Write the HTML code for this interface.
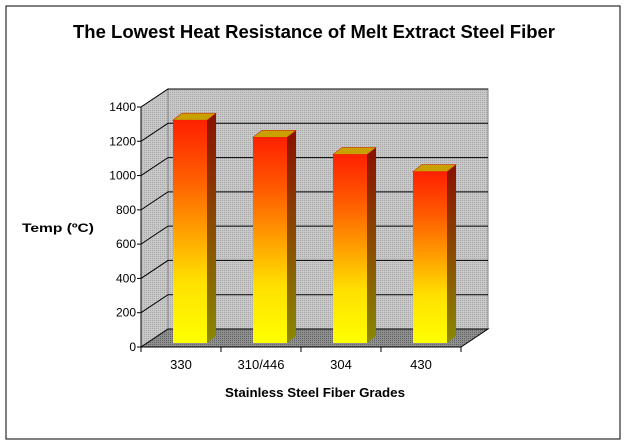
<!DOCTYPE html>
<html><head><meta charset="utf-8"><style>
html,body{margin:0;padding:0;background:#fff;}
svg{display:block;font-family:"Liberation Sans",Arial,sans-serif;}
</style></head><body>
<svg id="chart" width="629" height="447" viewBox="0 0 629 447">
<defs>
<pattern id="dots" width="2" height="2" patternUnits="userSpaceOnUse"><rect width="2" height="2" fill="#c8c8c8"/><rect width="1" height="1" fill="#a8a8a8"/></pattern>
<pattern id="dotsdark" width="2" height="2" patternUnits="userSpaceOnUse"><rect width="2" height="2" fill="#909090"/><rect width="1" height="1" fill="#606060"/></pattern>
<linearGradient id="gFront" x1="0" y1="0" x2="0" y2="1">
<stop offset="0" stop-color="#ff2000"/><stop offset="0.25" stop-color="#ff5a00"/><stop offset="0.5" stop-color="#ffa000"/><stop offset="0.72" stop-color="#ffe000"/><stop offset="1" stop-color="#ffff00"/></linearGradient>
<linearGradient id="gSide" x1="0" y1="0" x2="0" y2="1">
<stop offset="0" stop-color="#8a1000"/><stop offset="0.4" stop-color="#8a4000"/><stop offset="1" stop-color="#8a8a00"/></linearGradient>
</defs>
<rect x="6" y="6" width="614" height="433" fill="#fff" stroke="#000" stroke-width="1"/>
<text x="314" y="38" text-anchor="middle" font-size="18" font-weight="bold" textLength="482" lengthAdjust="spacingAndGlyphs">The Lowest Heat Resistance of Melt Extract Steel Fiber</text>
<g id="plot"></g>
<text x="22" y="232" font-size="12" font-weight="bold" textLength="72" lengthAdjust="spacingAndGlyphs">Temp (ºC)</text>
<text x="315" y="397" text-anchor="middle" font-size="13" font-weight="bold" textLength="180" lengthAdjust="spacingAndGlyphs">Stainless Steel Fiber Grades</text>
</svg>
<script>
const categories = ["330", "310/446", "304", "430"];
const values = [1300, 1200, 1100, 1000];
const yTicks = [0, 200, 400, 600, 800, 1000, 1200, 1400];
const yMax = 1400;

const NS = "http://www.w3.org/2000/svg";
const g = document.getElementById("plot");
const X0 = 141, X1 = 461, Y0 = 347, Y1 = 107, DX = 27, DY = -18;
function y(v){ return Y0 - (v / yMax) * (Y0 - Y1); }
const catW = (X1 - X0) / categories.length;
function xc(i){ return X0 + catW * i; }
function mk(tag, attrs){ const e = document.createElementNS(NS, tag); for (const k in attrs) e.setAttribute(k, attrs[k]); g.appendChild(e); return e; }

// walls
let e;
e = mk("polygon", {points:`${X0},${Y1} ${X0+DX},${Y1+DY} ${X0+DX},${Y0+DY} ${X0},${Y0}`, fill:"url(#dots)", stroke:"#808080"});


e = mk("rect", {x:X0+DX, y:Y1+DY, width:X1-X0, height:Y0-Y1, fill:"url(#dots)", stroke:"#808080"});


e = mk("polygon", {points:`${X0},${Y0} ${X0+DX},${Y0+DY} ${X1+DX},${Y0+DY} ${X1},${Y0}`, fill:"url(#dotsdark)", stroke:"#000"});



// gridlines and ticks
yTicks.forEach(t => {
  const yy = y(t);
  if (t > 0) {
    e = mk("polyline", {points:`${X0},${yy} ${X0+DX},${yy+DY} ${X1+DX},${yy+DY}`, fill:"none", stroke:"#000", "stroke-width":1});
    
    
  }
  e = mk("line", {x1:X0-4, y1:yy, x2:X0, y2:yy, stroke:"#000"});
  
  
  e = mk("text", {x:X0-5, y:yy+4, "text-anchor":"end", "font-size":12});
  e.textContent = t;
  
  
});
e = mk("line", {x1:X0, y1:Y0, x2:X0, y2:Y1, stroke:"#000"});


e = mk("line", {x1:X0, y1:Y0, x2:X1, y2:Y0, stroke:"#000"});



for (let i = 0; i <= categories.length; i++) {
  e = mk("line", {x1:xc(i), y1:Y0, x2:xc(i), y2:Y0+5, stroke:"#000"});
  
  
}

// bars
const bw = 34, bd = 9, bdy = -7, off = 4;
categories.forEach((c, i) => {
  const left = xc(i) + 32;
  const base = Y0 - off;
  const top = base - (Y0 - y(values[i]));
  e = mk("polygon", {points:`${left+bw},${top} ${left+bw+bd},${top+bdy} ${left+bw+bd},${base+bdy} ${left+bw},${base}`, fill:"url(#gSide)"});
  
  
  e = mk("polygon", {points:`${left},${top} ${left+bd},${top+bdy} ${left+bw+bd},${top+bdy} ${left+bw},${top}`, fill:"#c8a000", stroke:"#d03000", "stroke-width":0.6});
  
  
  e = mk("rect", {x:left, y:top, width:bw, height:base-top, fill:"url(#gFront)"});
  
  
  e = mk("text", {x:xc(i)+catW/2, y:Y0+22, "text-anchor":"middle", "font-size":13});
  e.textContent = c;
  
  
});
</script>
</body></html>
